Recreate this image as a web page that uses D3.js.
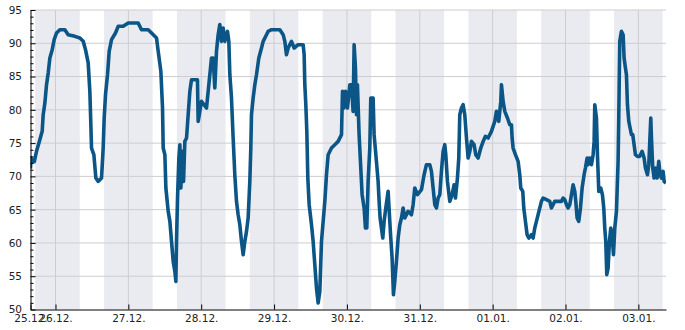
<!DOCTYPE html>
<html><head><meta charset="utf-8">
<script src="https://cdn.jsdelivr.net/npm/d3@7"></script>
<style>
body{margin:0;background:#fff}
svg{display:block}
text{font-family:"DejaVu Sans",sans-serif;font-size:10px;fill:#222}
</style>
</head><body>
<svg id="c" width="685" height="330"></svg>
<script>
// hours since 25.12. 00:00
const hours = [15.77,15.9,16.3,17.0,17.75,18.85,19.62,19.95,20.5,21.05,21.6,22.15,22.92,23.57,24.34,25.44,27.09,28.19,30.38,32.03,33.13,33.89,34.77,35.32,35.65,35.87,36.64,37.3,38.07,39.17,39.71,40.04,40.48,41.14,41.69,42.46,43.77,44.65,46.3,47.95,51.24,52.34,54.54,55.64,57.28,57.83,58.71,59.26,59.48,60.03,60.36,61.13,61.68,62.22,62.77,63.32,63.65,63.87,64.2,64.64,64.97,65.3,65.74,66.18,66.61,67.17,67.71,68.26,
68.8,70.77,71.0,72.09,73.74,74.29,75.39,75.94,76.48,77.03,77.58,78.13,78.68,79.23,79.78,80.66,81.1,81.43,81.97,82.52,83.07,83.62,84.17,84.72,85.27,85.82,86.37,86.92,87.46,88.01,88.34,88.56,89.11,89.66,90.21,90.98,91.86,92.41,93.5,94.05,95.15,97.9,99.0,99.54,100.09,100.64,101.74,102.62,103.93,105.58,105.91,106.13,106.46,106.79,107.12,107.56,108.33,108.87,109.42,109.97,110.52,111.07,111.62,112.17,112.72,113.27,113.82,114.91,116.01,117.11,118.21,118.54,118.98,119.53,120.18,120.95,
121.49,122.04,122.37,122.81,123.14,123.46,124.01,124.56,125.0,125.66,126.1,126.54,126.98,127.53,127.86,128.63,128.95,129.72,130.27,130.6,130.93,131.37,131.81,132.25,132.8,133.57,134.12,134.44,134.88,135.32,135.76,136.31,136.86,137.41,137.96,138.51,139.06,140.15,141.25,141.8,142.35,143.23,144.55,145.42,146.19,147.29,147.84,148.39,148.94,149.49,150.04,150.59,151.13,151.68,152.23,152.56,153.11,153.88,154.65,155.31,155.75,156.4,156.84,157.17,157.72,158.27,158.82,159.37,159.92,160.47,161.02,161.89,162.44,163.21,164.09,164.86,165.63,166.51,167.6,168.7,169.25,170.02,170.68,170.9,171.45,172.0,172.87,
173.64,174.19,174.41,174.74,175.51,176.38,176.93,177.26,177.92,178.25,178.8,179.35,179.9,180.78,181.33,181.87,182.42,182.97,183.52,184.07,184.62,185.72,186.82,187.36,187.91,188.46,189.56,190.66,191.21,191.76,192.31,192.85,193.4,193.95,194.5,195.05,195.38,195.82,196.37,196.92,197.47,198.12,198.56,199.11,199.44,199.99,200.54,201.09,201.42,201.64,202.19,202.52,202.96,203.61,204.16,204.6,204.93,205.26,205.59,206.03,206.47,206.91,207.35,207.79,208.23,208.78,209.32,209.54,209.87,210.42,210.97,211.3,211.74,212.07,212.4,212.84,213.28,213.72,214.16,214.59,215.03,215.69,216.46,217.23,217.89,218.33,218.99,219.43,219.76,220.09,220.31,220.74,221.18,221.62,222.17,222.72,223.16,223.6,224.15,224.48,225.1];
const humidity = [71.2,72.8,72.2,72.2,73.76,75.51,76.77,79.27,81.02,83.78,85.53,87.79,89.04,90.54,91.54,92.04,92.04,91.29,91.04,90.79,90.29,89.04,87.04,82.78,77.77,74.26,73.26,69.75,69.25,69.75,74.26,78.77,82.28,85.28,88.79,90.54,91.54,92.55,92.55,93.05,93.05,92.04,92.04,91.54,90.79,88.79,85.78,80.27,74.26,73.26,68.25,64.75,63.24,60.24,57.23,55.73,54.23,60.24,66.75,72.76,74.76,68.25,73.76,69.25,75.26,75.77,79.27,82.78,
84.53,84.53,78.27,81.27,80.27,82.78,87.79,87.79,83.28,88.79,91.29,92.8,90.29,92.29,90.29,91.79,90.29,85.28,81.78,75.77,70.25,66.25,64.24,62.74,60.24,58.23,60.24,61.74,63.74,69.25,74.26,79.27,81.78,83.78,85.28,87.79,89.29,90.29,91.29,91.79,92.04,92.04,91.29,90.29,88.29,89.29,90.29,89.29,89.79,89.79,88.29,83.78,80.77,76.77,69.75,65.75,62.74,60.24,56.73,53.22,50.97,52.72,60.24,63.24,66.25,70.25,73.26,74.26,74.76,75.26,76.27,82.78,80.27,82.78,80.27,83.78,
83.78,79.77,89.79,86.28,79.27,83.78,76.27,71.26,67.25,65.25,62.24,62.24,69.25,74.26,81.78,81.78,76.27,72.26,69.25,66.25,63.74,62.24,60.74,63.24,65.25,67.75,63.24,60.74,57.73,52.22,54.23,57.23,60.74,62.74,63.74,65.25,63.74,64.75,64.24,65.75,68.25,67.25,68.0,70.25,71.76,71.76,70.75,68.25,65.75,65.25,66.75,67.25,70.75,73.76,74.76,73.26,69.25,66.25,67.25,68.75,66.75,69.75,72.76,79.27,80.27,80.77,79.27,75.77,72.76,73.76,75.26,74.76,73.26,72.76,74.26,75.26,76.02,75.77,76.77,78.27,79.77,78.27,81.27,83.78,81.27,79.77,78.77,
77.77,77.77,75.77,74.26,73.26,72.26,70.25,68.25,67.75,65.25,63.24,61.24,60.74,61.24,60.74,62.24,63.24,64.24,65.25,66.25,66.75,66.5,66.25,65.25,65.75,66.25,66.25,66.25,66.75,66.5,65.75,65.25,65.75,67.25,68.75,67.75,66.25,63.74,63.24,65.25,68.25,70.25,71.26,72.76,71.76,72.76,71.76,73.26,75.26,80.77,78.77,73.26,67.75,68.25,67.25,65.25,62.24,60.24,55.23,56.23,60.24,62.24,61.24,58.23,62.24,64.75,72.26,78.77,90.29,91.79,91.29,87.79,86.28,85.28,80.77,78.27,77.27,76.27,76.27,74.76,73.26,73.01,73.01,73.76,72.76,71.26,70.25,71.76,75.26,78.77,75.77,71.26,69.75,71.26,69.75,72.26,70.25,69.75,70.75,69.25,69.0];
const nightStart = [17.3, 40, 64, 88, 112, 136, 160, 184, 208];
const nightEnd   = [32, 56, 80, 104, 128, 152, 176, 200, 224];
const yTicks = [50,55,60,65,70,75,80,85,90,95];
const yMinorTicks = d3.range(50,96).filter(v => v % 5 !== 0);
const domainHours = [15.77, 225.1];
const yDomain = [50, 95];

const base = new Date(2023, 11, 25);
const toDate = h => new Date(base.getTime() + h * 3600e3);

const L = 30.5, R = 666, T = 10, B = 309.5;
const svg = d3.select("#c");
const x = d3.scaleTime().domain(domainHours.map(toDate)).range([L, R]);
const y = d3.scaleLinear().domain(yDomain).range([B, T]);

const xTicks = [toDate(domainHours[0])].concat(d3.timeDay.range(d3.timeDay.ceil(toDate(domainHours[0])), toDate(domainHours[1])));
const fmt = d3.timeFormat("%d.%m.");

// night bands
svg.append("g").selectAll("rect").data(nightStart.map((s, i) => [s, nightEnd[i]])).join("rect")
  .attr("x", d => x(toDate(d[0]))).attr("width", d => x(toDate(d[1])) - x(toDate(d[0])))
  .attr("y", T).attr("height", B - T).attr("fill", "#eaebf1");

// grid
const grid = svg.append("g").attr("stroke", "#cdcdd0").attr("stroke-width", 1);
grid.selectAll("line.h").data(yTicks.slice(1)).join("line").attr("class", "h")
  .attr("x1", L).attr("x2", R).attr("y1", d => y(d)).attr("y2", d => y(d));
grid.selectAll("line.v").data(xTicks.slice(1)).join("line").attr("class", "v")
  .attr("x1", d => x(d)).attr("x2", d => x(d)).attr("y1", T).attr("y2", B);

// line
svg.append("clipPath").attr("id", "clip").append("rect").attr("x", L).attr("y", T - 5).attr("width", R - L).attr("height", B - T + 5);
const pts = hours.map((h, i) => [toDate(h), humidity[i]]);
svg.append("path").datum(pts).attr("clip-path", "url(#clip)")
  .attr("fill", "none").attr("stroke", "#0b5687").attr("stroke-width", 3.6).attr("stroke-linejoin", "round")
  .attr("d", d3.line().x(d => x(d[0])).y(d => y(d[1])));

// axes
const yAxis = svg.append("g").attr("transform", `translate(${L},0)`)
  .call(d3.axisLeft(y).tickValues(yTicks).tickFormat(d3.format("d")).tickSizeInner(-5).tickSizeOuter(0).tickPadding(8.5));
svg.append("g").attr("transform", `translate(${L},0)`)
  .call(d3.axisLeft(y).tickValues(yMinorTicks).tickFormat("").tickSizeInner(-3).tickSizeOuter(0))
  .call(g => g.select(".domain").remove());
const xAxis = svg.append("g").attr("transform", `translate(0,${B})`)
  .call(d3.axisBottom(x).tickValues(xTicks).tickFormat(fmt).tickSizeInner(-5).tickSizeOuter(0).tickPadding(5));
svg.selectAll(".tick text").attr("fill", "#222").style("font-size", "10.5px").style("font-family", "'DejaVu Sans', sans-serif");
svg.selectAll(".domain, .tick line").attr("stroke", "#000");
</script>
</body></html>
